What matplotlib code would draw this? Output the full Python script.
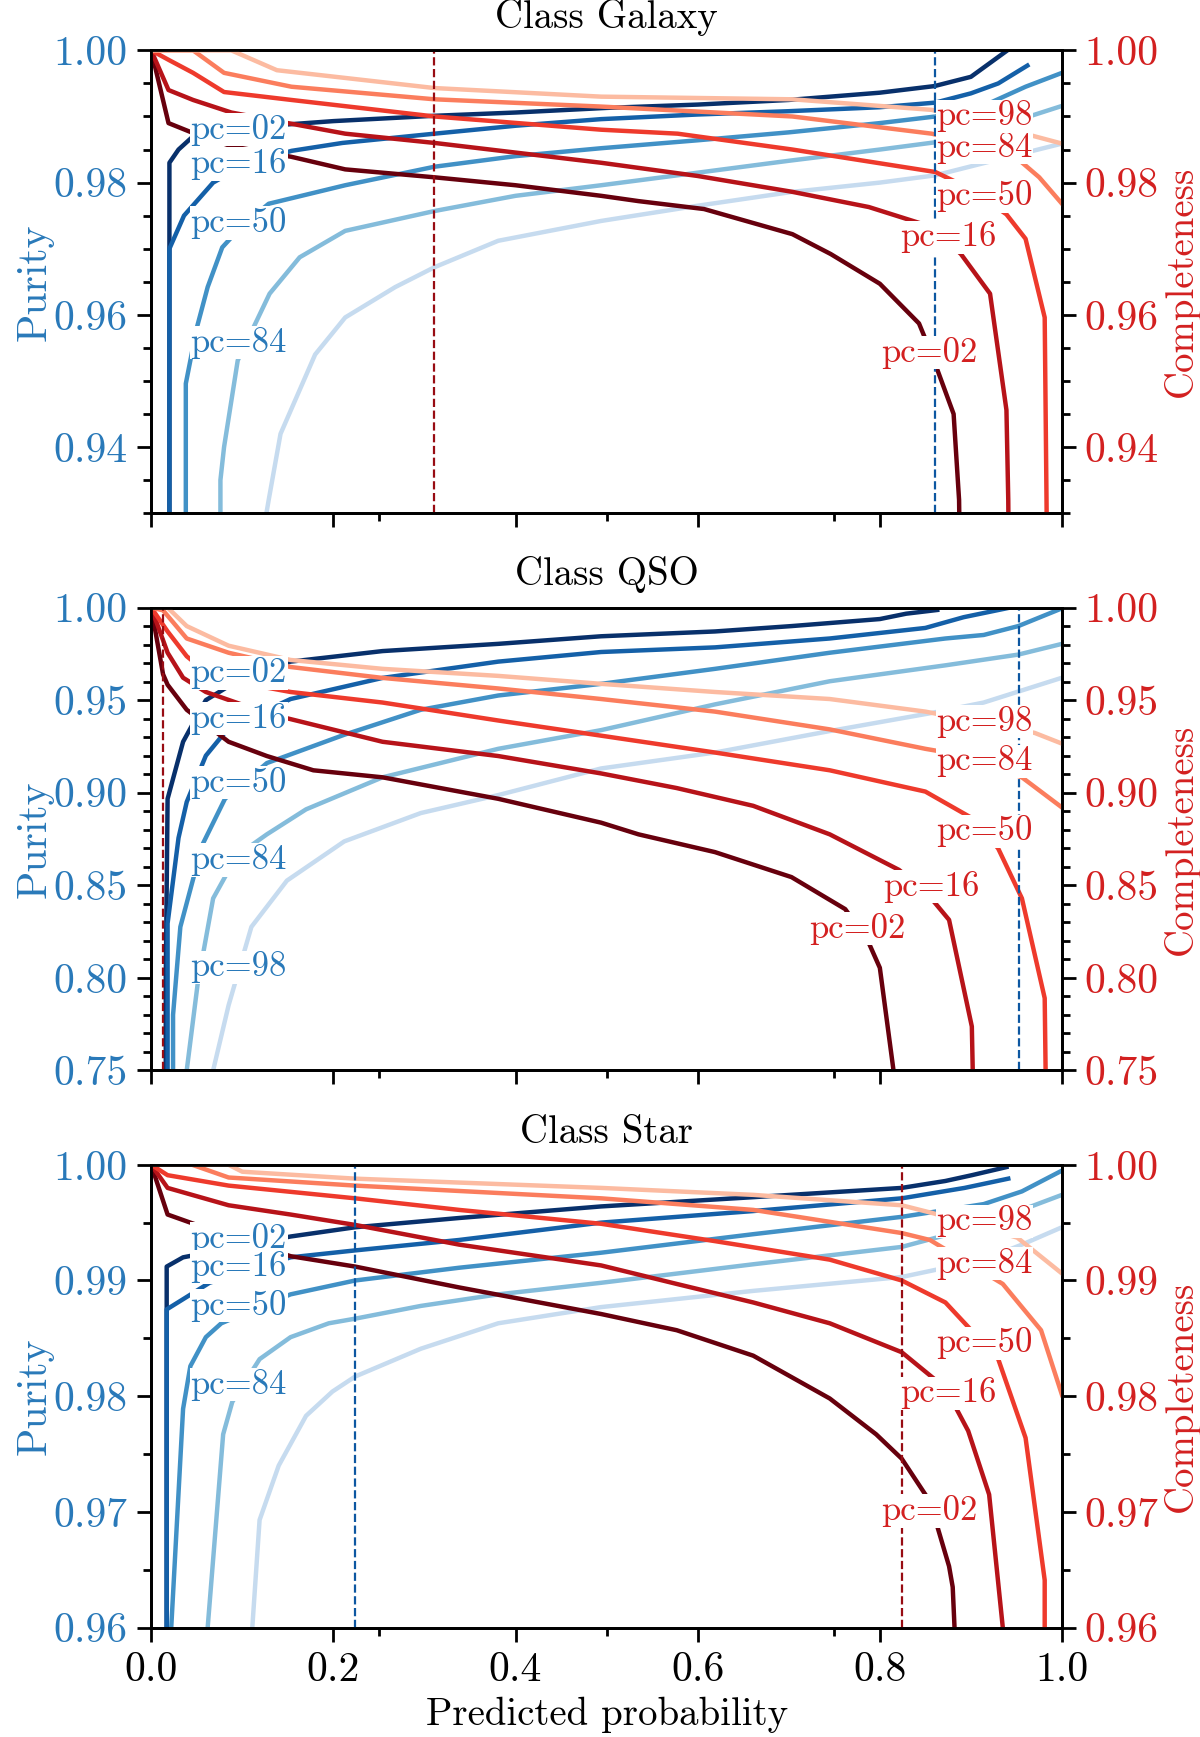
import numpy as np
import matplotlib
matplotlib.use("Agg")
import matplotlib.pyplot as plt
from matplotlib.ticker import MultipleLocator

plt.rcParams['font.family'] = ['cmr10', 'DejaVu Serif']
plt.rcParams['axes.formatter.use_mathtext'] = True
plt.rcParams['mathtext.fontset'] = 'cm'

percentiles = ['02', '16', '50', '84', '98']
classes = ['Galaxy', 'QSO', 'Star']

# ---- Class Galaxy ----
gal_pur_x = [
    [0.02, 0.02, 0.03, 0.05, 0.10, 0.15, 0.20, 0.31, 0.40, 0.50, 0.60, 0.70, 0.80, 0.86, 0.90, 0.94],
    [0.02, 0.02, 0.036, 0.068, 0.10, 0.154, 0.21, 0.311, 0.40, 0.494, 0.60, 0.70, 0.80, 0.861, 0.90, 0.93, 0.962],
    [0.038, 0.038, 0.05, 0.062, 0.078, 0.10, 0.129, 0.213, 0.311, 0.40, 0.494, 0.60, 0.70, 0.80, 0.861, 0.92, 0.96, 1.0],
    [0.076, 0.076, 0.08, 0.095, 0.13, 0.163, 0.213, 0.311, 0.40, 0.494, 0.60, 0.70, 0.80, 0.861, 0.93, 1.0],
    [0.124, 0.124, 0.129, 0.142, 0.18, 0.213, 0.268, 0.311, 0.381, 0.494, 0.60, 0.704, 0.80, 0.861, 0.93, 1.0],
]
gal_pur_y = [
    [0.90, 0.983, 0.985, 0.9875, 0.9885, 0.9888, 0.9893, 0.9901, 0.9906, 0.9913, 0.9918, 0.9925, 0.9936, 0.9946, 0.996, 1.0],
    [0.90, 0.970, 0.975, 0.980, 0.9825, 0.9848, 0.986, 0.9874, 0.9886, 0.9896, 0.9903, 0.9908, 0.9914, 0.9921, 0.9935, 0.995, 0.9977],
    [0.90, 0.9496, 0.958, 0.9642, 0.9702, 0.9735, 0.9768, 0.9796, 0.9824, 0.984, 0.9852, 0.9864, 0.9876, 0.989, 0.990, 0.992, 0.9945, 0.9966],
    [0.90, 0.935, 0.940, 0.9531, 0.9632, 0.9687, 0.9727, 0.9757, 0.978, 0.9796, 0.9815, 0.9833, 0.985, 0.9861, 0.9885, 0.9916],
    [0.90, 0.928, 0.932, 0.942, 0.954, 0.9596, 0.9642, 0.9672, 0.9712, 0.9742, 0.9765, 0.9786, 0.980, 0.9811, 0.9835, 0.9859],
]
gal_comp_x = [
    [0, 0.019, 0.046, 0.088, 0.154, 0.213, 0.311, 0.40, 0.494, 0.535, 0.607, 0.704, 0.746, 0.80, 0.843, 0.857, 0.881, 0.887, 0.89],
    [0, 0.019, 0.046, 0.088, 0.154, 0.213, 0.311, 0.494, 0.60, 0.704, 0.788, 0.857, 0.889, 0.921, 0.939, 0.941, 0.943],
    [0, 0.02, 0.046, 0.08, 0.154, 0.311, 0.494, 0.578, 0.704, 0.861, 0.90, 0.939, 0.96, 0.981, 0.983, 0.985],
    [0, 0.046, 0.08, 0.154, 0.311, 0.494, 0.704, 0.857, 0.90, 0.953, 0.975, 1.0],
    [0, 0.088, 0.138, 0.311, 0.494, 0.704, 0.857, 0.93, 0.97, 1.0],
]
gal_comp_y = [
    [1.0, 0.989, 0.9875, 0.9855, 0.9839, 0.982, 0.9808, 0.9796, 0.978, 0.9772, 0.976, 0.9722, 0.9692, 0.9647, 0.9587, 0.954, 0.945, 0.932, 0.90],
    [1.0, 0.994, 0.9925, 0.9906, 0.9889, 0.9874, 0.986, 0.983, 0.981, 0.9786, 0.9763, 0.9733, 0.9692, 0.9632, 0.9456, 0.932, 0.90],
    [1.0, 0.9985, 0.9966, 0.9937, 0.9925, 0.990, 0.988, 0.9874, 0.985, 0.9816, 0.979, 0.9752, 0.9715, 0.9596, 0.932, 0.90],
    [1.0, 1.0, 0.9966, 0.9945, 0.9926, 0.9915, 0.990, 0.9874, 0.986, 0.9834, 0.9808, 0.9768],
    [1.0, 1.0, 0.997, 0.9943, 0.993, 0.9926, 0.991, 0.9885, 0.987, 0.9859],
]

# ---- Class QSO ----
qso_pur_x = [
    [0.016, 0.016, 0.018, 0.035, 0.06, 0.10, 0.153, 0.254, 0.381, 0.494, 0.619, 0.703, 0.80, 0.829, 0.863],
    [0.018, 0.018, 0.030, 0.039, 0.060, 0.085, 0.153, 0.254, 0.381, 0.494, 0.619, 0.745, 0.85, 0.892, 0.943],
    [0.024, 0.024, 0.032, 0.056, 0.081, 0.127, 0.212, 0.296, 0.381, 0.494, 0.619, 0.745, 0.872, 0.914, 0.952, 1.0],
    [0.039, 0.039, 0.051, 0.068, 0.094, 0.127, 0.17, 0.254, 0.381, 0.494, 0.619, 0.745, 0.872, 0.952, 1.0],
    [0.068, 0.068, 0.085, 0.11, 0.149, 0.212, 0.296, 0.381, 0.494, 0.619, 0.745, 0.855, 0.914, 1.0],
]
qso_pur_y = [
    [0.70, 0.80, 0.8967, 0.9275, 0.950, 0.962, 0.9708, 0.9765, 0.9804, 0.9845, 0.9871, 0.990, 0.9938, 0.9967, 0.9987],
    [0.70, 0.8294, 0.8756, 0.895, 0.92, 0.935, 0.9506, 0.962, 0.9708, 0.9760, 0.9785, 0.9833, 0.989, 0.9948, 1.0],
    [0.70, 0.78, 0.8275, 0.8717, 0.8967, 0.916, 0.9313, 0.9448, 0.9525, 0.9588, 0.9669, 0.9756, 0.9833, 0.9852, 0.990, 0.9996],
    [0.70, 0.75, 0.7967, 0.8429, 0.866, 0.8775, 0.891, 0.9083, 0.9237, 0.9338, 0.9477, 0.9602, 0.9688, 0.9746, 0.9804],
    [0.70, 0.75, 0.7852, 0.8275, 0.8525, 0.8737, 0.889, 0.8987, 0.9131, 0.9217, 0.9333, 0.9429, 0.9487, 0.9621],
]
qso_comp_x = [
    [0, 0.013, 0.018, 0.039, 0.085, 0.127, 0.178, 0.254, 0.381, 0.494, 0.535, 0.619, 0.703, 0.762, 0.787, 0.80, 0.815, 0.818],
    [0, 0.018, 0.035, 0.06, 0.127, 0.254, 0.381, 0.494, 0.577, 0.661, 0.745, 0.821, 0.85, 0.876, 0.901, 0.902, 0.903],
    [0, 0.018, 0.039, 0.068, 0.153, 0.254, 0.381, 0.494, 0.619, 0.745, 0.85, 0.905, 0.93, 0.956, 0.981, 0.982, 0.983],
    [0, 0.013, 0.039, 0.085, 0.153, 0.254, 0.381, 0.494, 0.619, 0.745, 0.85, 0.884, 0.956, 1.0],
    [0, 0.018, 0.039, 0.085, 0.153, 0.254, 0.381, 0.494, 0.619, 0.745, 0.85, 0.97, 1.0],
]
qso_comp_y = [
    [1.0, 0.964, 0.9583, 0.9448, 0.9275, 0.9198, 0.9121, 0.9083, 0.8967, 0.8838, 0.8775, 0.8679, 0.8544, 0.8371, 0.8198, 0.8054, 0.75, 0.70],
    [1.0, 0.9756, 0.9621, 0.9544, 0.9429, 0.9275, 0.9198, 0.9104, 0.9025, 0.8929, 0.8775, 0.8583, 0.8467, 0.8313, 0.7737, 0.75, 0.70],
    [1.0, 0.9871, 0.9737, 0.9621, 0.9544, 0.9487, 0.939, 0.9308, 0.9217, 0.9121, 0.9006, 0.8852, 0.8698, 0.8429, 0.789, 0.75, 0.70],
    [1.0, 0.9985, 0.9833, 0.9756, 0.9679, 0.962, 0.9563, 0.9506, 0.9438, 0.9342, 0.9237, 0.9208, 0.9083, 0.892],
    [1.0, 1.0, 0.99, 0.9794, 0.9717, 0.9669, 0.9631, 0.9588, 0.9544, 0.9506, 0.9438, 0.9323, 0.9265],
]

# ---- Class Star ----
star_pur_x = [
    [0.017, 0.017, 0.035, 0.153, 0.224, 0.338, 0.494, 0.661, 0.824, 0.872, 0.901, 0.939],
    [0.017, 0.017, 0.064, 0.153, 0.224, 0.338, 0.494, 0.661, 0.824, 0.893, 0.941],
    [0.022, 0.022, 0.035, 0.043, 0.06, 0.077, 0.153, 0.224, 0.338, 0.494, 0.661, 0.824, 0.914, 0.956, 1.0],
    [0.062, 0.062, 0.079, 0.089, 0.119, 0.153, 0.195, 0.224, 0.296, 0.381, 0.494, 0.661, 0.824, 0.914, 0.956, 1.0],
    [0.111, 0.111, 0.119, 0.14, 0.17, 0.199, 0.224, 0.296, 0.381, 0.494, 0.661, 0.824, 0.914, 0.956, 1.0],
]
star_pur_y = [
    [0.95, 0.9912, 0.992, 0.9938, 0.9946, 0.9954, 0.9964, 0.9972, 0.998, 0.9986, 0.9991, 0.9998],
    [0.95, 0.9875, 0.9898, 0.992, 0.9926, 0.9935, 0.995, 0.996, 0.9971, 0.998, 0.9988],
    [0.95, 0.96, 0.9789, 0.9826, 0.9851, 0.9863, 0.9888, 0.990, 0.9911, 0.9924, 0.994, 0.9955, 0.9966, 0.9977, 0.9995],
    [0.95, 0.96, 0.9767, 0.9795, 0.9832, 0.9851, 0.9863, 0.9867, 0.9878, 0.9888, 0.9898, 0.9914, 0.9929, 0.9948, 0.9961, 0.9974],
    [0.95, 0.96, 0.9693, 0.974, 0.9783, 0.9804, 0.9817, 0.9841, 0.9863, 0.9877, 0.9891, 0.9903, 0.9918, 0.9931, 0.9946],
]
star_comp_x = [
    [0, 0.018, 0.068, 0.153, 0.224, 0.338, 0.494, 0.577, 0.661, 0.745, 0.796, 0.824, 0.855, 0.876, 0.88, 0.882, 0.884],
    [0, 0.018, 0.085, 0.153, 0.224, 0.338, 0.494, 0.577, 0.661, 0.745, 0.824, 0.872, 0.897, 0.92, 0.935, 0.937],
    [0, 0.018, 0.085, 0.224, 0.338, 0.494, 0.619, 0.745, 0.824, 0.872, 0.93, 0.96, 0.981, 0.981, 0.982],
    [0, 0.045, 0.085, 0.224, 0.494, 0.661, 0.824, 0.855, 0.935, 0.977, 1.0],
    [0, 0.085, 0.1, 0.224, 0.494, 0.661, 0.824, 0.859, 0.951, 1.0],
]
star_comp_y = [
    [1.0, 0.9957, 0.9943, 0.9921, 0.9912, 0.9894, 0.9871, 0.9857, 0.9835, 0.9798, 0.9767, 0.9746, 0.9709, 0.9653, 0.9635, 0.96, 0.95],
    [1.0, 0.998, 0.9965, 0.9957, 0.9948, 0.9931, 0.9913, 0.9897, 0.9881, 0.9863, 0.9838, 0.9807, 0.977, 0.9715, 0.96, 0.95],
    [1.0, 0.9991, 0.9982, 0.9971, 0.9961, 0.9949, 0.9934, 0.9918, 0.990, 0.9881, 0.9832, 0.9764, 0.9641, 0.96, 0.95],
    [1.0, 1.0, 0.9989, 0.9982, 0.9971, 0.9961, 0.9941, 0.9935, 0.9897, 0.9857, 0.9801],
    [1.0, 1.0, 0.9994, 0.9988, 0.998, 0.9974, 0.9965, 0.9958, 0.9937, 0.9906],
]

# chosen thresholds (dashed lines): purity-side (blue) and completeness-side (red)
thr_blue = [0.861, 0.953, 0.224]
thr_red = [0.311, 0.013, 0.824]

ylims = [(0.93, 1.0), (0.75, 1.0), (0.96, 1.0)]
ymajor = [0.02, 0.05, 0.01]
yminor = [0.005, 0.01, 0.005]

# inline label positions (x, y) for each percentile, blue then red
blue_lab = [
    [(0.096, 0.9880), (0.096, 0.9828), (0.096, 0.9739), (0.096, 0.9558), None],
    [(0.096, 0.9647), (0.096, 0.9400), (0.096, 0.9055), (0.096, 0.8636), (0.096, 0.8056)],
    [(0.096, 0.99357), (0.096, 0.99117), (0.096, 0.98782), (0.096, 0.9810), None],
]
red_lab = [
    [(0.854, 0.9543), (0.875, 0.9717), (0.915, 0.9780), (0.915, 0.9853), (0.915, 0.9900)],
    [(0.775, 0.8266), (0.857, 0.8493), (0.915, 0.8792), (0.915, 0.9169), (0.915, 0.9384)],
    [(0.854, 0.97007), (0.875, 0.98024), (0.915, 0.98456), (0.915, 0.99146), (0.915, 0.9951)],
]

pur_x = [gal_pur_x, qso_pur_x, star_pur_x]
pur_y = [gal_pur_y, qso_pur_y, star_pur_y]
comp_x = [gal_comp_x, qso_comp_x, star_comp_x]
comp_y = [gal_comp_y, qso_comp_y, star_comp_y]

blues = [plt.cm.Blues(v) for v in np.linspace(1.0, 0.25, 5)]
reds = [plt.cm.Reds(v) for v in np.linspace(1.0, 0.25, 5)]
c_blue = plt.cm.Blues(0.72)
c_red = plt.cm.Reds(0.72)

fs = 30
fig, axes = plt.subplots(3, 1, figsize=(12, 17.37), dpi=100, sharex=True)
fig.subplots_adjust(left=0.126, right=0.885, top=0.971, bottom=0.063, hspace=0.204)

for i, ax in enumerate(axes):
    ax2 = ax.twinx()
    for k in range(5):
        ax.plot(pur_x[i][k], pur_y[i][k], color=blues[k], lw=3.2)
        ax2.plot(comp_x[i][k], comp_y[i][k], color=reds[k], lw=3.2)
    ax2.axvline(thr_blue[i], color=plt.cm.Blues(0.85), ls='--', lw=1.6)
    ax2.axvline(thr_red[i], color=plt.cm.Reds(0.9), ls='--', lw=1.6)

    box = dict(boxstyle='square,pad=0.02', fc='white', ec='none')
    for k in range(5):
        if blue_lab[i][k] is not None:
            bx, by = blue_lab[i][k]
            ax2.text(bx, by, 'pc=' + percentiles[k], transform=ax.transData, color=c_blue,
                     fontsize=25, ha='center', va='center', bbox=box, zorder=10)
        rx, ry = red_lab[i][k]
        ax2.text(rx, ry, 'pc=' + percentiles[k], color=c_red,
                 fontsize=25, ha='center', va='center', bbox=box, zorder=10)

    for a in (ax, ax2):
        a.set_ylim(*ylims[i])
        a.yaxis.set_major_locator(MultipleLocator(ymajor[i]))
        a.yaxis.set_minor_locator(MultipleLocator(yminor[i]))
        a.yaxis.set_major_formatter(plt.FormatStrFormatter('%.2f'))
        for s in a.spines.values():
            s.set_linewidth(2)
    ax.set_xlim(0, 1)
    ax.xaxis.set_major_locator(MultipleLocator(0.2))
    ax.xaxis.set_minor_locator(MultipleLocator(0.25))
    ax.xaxis.set_major_formatter(plt.FormatStrFormatter('%.1f'))
    ax.tick_params(which='both', direction='out', width=2, labelsize=fs)
    ax.tick_params(which='major', length=10, pad=7)
    ax.tick_params(which='minor', length=6)
    ax.tick_params(axis='y', colors='black', labelcolor=c_blue)
    ax2.tick_params(which='both', direction='out', width=2, labelsize=fs, labelcolor=c_red)
    ax2.tick_params(which='major', length=10, pad=6)
    ax2.tick_params(which='minor', length=6)
    ax.set_ylabel('Purity', color=c_blue, fontsize=30, labelpad=0)
    ax2.set_ylabel('Completeness', color=c_red, fontsize=28, labelpad=3)
    ax.set_title('Class ' + classes[i], fontsize=28, pad=16)

axes[-1].set_xlabel('Predicted probability', fontsize=28, labelpad=6)

fig.savefig('out.png', dpi=100)
